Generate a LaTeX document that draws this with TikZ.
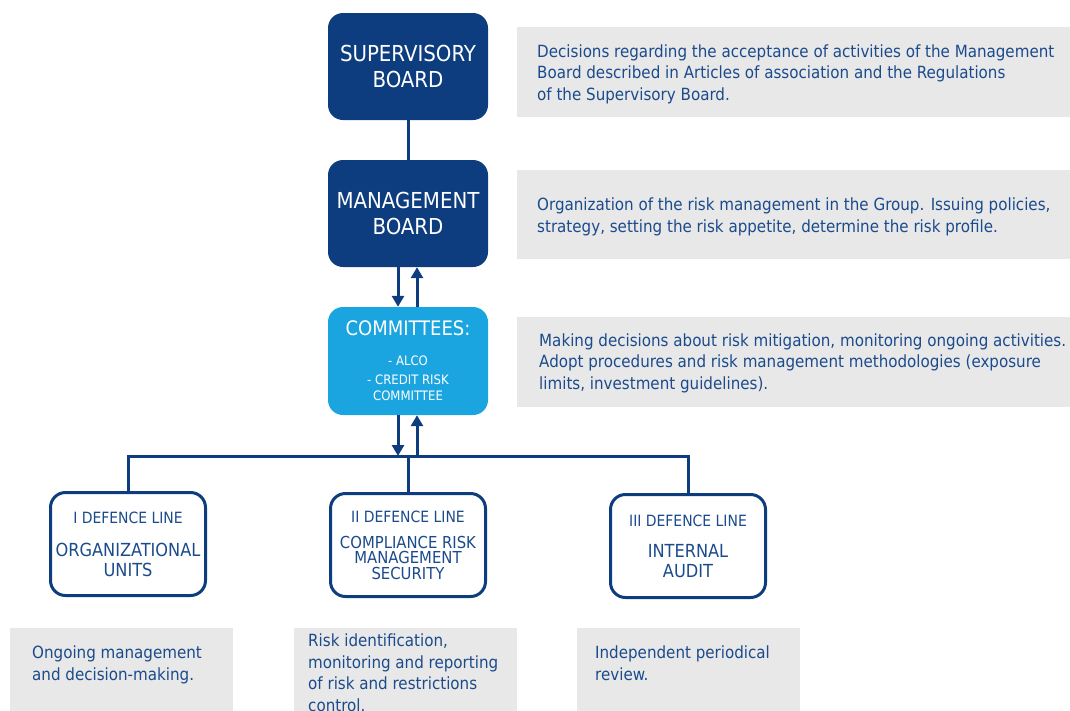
\documentclass[tikz,border=0pt]{standalone}
\usepackage{fontspec}
\setmainfont{DejaVu Sans Condensed}
\usetikzlibrary{arrows.meta}
\definecolor{navy}{HTML}{0D3D7E}
\definecolor{lblue}{HTML}{1AA5E1}
\definecolor{tnavy}{HTML}{1B4B8C}
\definecolor{lgray}{HTML}{E8E8E8}
\tikzset{
  darkbox/.style={draw=none, fill=navy, rounded corners=15pt, minimum width=160pt, minimum height=107pt, text=white, align=center, font=\fontsize{22}{26}\selectfont, inner sep=0pt},
  combox/.style={draw=none, fill=lblue, rounded corners=15pt, minimum width=160pt, minimum height=108pt, text=white, align=center, inner sep=0pt},
  linebox/.style={draw=navy, line width=3pt, fill=white, rounded corners=15pt, minimum width=155pt, minimum height=103pt, text=tnavy, align=center, inner sep=0pt},
  desc/.style={text=tnavy, align=left, font=\fontsize{16.8}{21.5}\selectfont, inner sep=0pt},
  conn/.style={draw=navy, line width=3pt},
  arr/.style={draw=navy, line width=3pt, -{Triangle[width=12pt,length=11pt]}},
}
\begin{document}
\begin{tikzpicture}[x=1pt,y=-1pt]
\useasboundingbox (0,0) rectangle (1070,710);
% gray description boxes
\fill[lgray] (517,27) rectangle (1075,117);
\fill[lgray] (517,170) rectangle (1075,259);
\fill[lgray] (517,317) rectangle (1075,407);
\fill[lgray] (10,628) rectangle (233,715);
\fill[lgray] (294,628) rectangle (517,715);
\fill[lgray] (577,628) rectangle (800,715);
% descriptions
\node[desc, anchor=west] (d1) at (537,74) {Decisions regarding the acceptance of activities of the Management\\Board described in Articles of association and the Regulations\\of the Supervisory Board.};
\node[desc, anchor=west] (d2) at (537,217) {Organization of the risk management in the Group. Issuing policies,\\strategy, setting the risk appetite, determine the risk profile.};
\node[desc, anchor=west] (d3) at (539,363) {Making decisions about risk mitigation, monitoring ongoing activities.\\Adopt procedures and risk management methodologies (exposure\\limits, investment guidelines).};
\node[desc, anchor=north west] (d4) at (32,646) {Ongoing management\\and decision-making.};
\node[desc, anchor=north west] (d5) at (308,634) {Risk identification,\\monitoring and reporting\\of risk and restrictions\\control.};
\node[desc, anchor=north west] (d6) at (595,646) {Independent periodical\\review.};
% main boxes
\node[darkbox] (sb) at (408,66.5) {SUPERVISORY\\BOARD};
\node[darkbox] (mb) at (408,213.5) {MANAGEMENT\\BOARD};
\node[combox, font=\fontsize{20}{16}\selectfont] (com) at (408,361) {COMMITTEES:\\[14pt]{\fontsize{13}{16}\selectfont - ALCO}\\[3pt]{\fontsize{13}{16}\selectfont - CREDIT RISK}\\{\fontsize{13}{16}\selectfont COMMITTEE}};
\node[linebox, font=\fontsize{18}{20}\selectfont] (u1) at (128,544) {{\fontsize{15.5}{18}\selectfont I DEFENCE LINE}\\[13pt]ORGANIZATIONAL\\UNITS};
\node[linebox, font=\fontsize{16.5}{15.5}\selectfont] (u2) at (408,545) {{\fontsize{15.5}{18}\selectfont II DEFENCE LINE}\\[10.5pt]COMPLIANCE RISK\\MANAGEMENT\\SECURITY};
\node[linebox, font=\fontsize{18}{20}\selectfont] (u3) at (688,546) {{\fontsize{15.5}{18}\selectfont III DEFENCE LINE}\\[11pt]INTERNAL\\AUDIT};
% connectors
\draw[conn] (sb.south) -- (mb.north);
\draw[arr] ([xshift=-10pt]mb.south) -- ([xshift=-10pt]com.north);
\draw[arr] ([xshift=9pt]com.north) -- ([xshift=9pt]mb.south);
\coordinate (bus) at (408,456);
\draw[conn] (u1.north) |- (bus) -| (u3.north);
\draw[conn] (bus) -- (u2.north);
\draw[arr] ([xshift=-10pt]com.south) -- ([xshift=-10pt]com.south |- bus);
\draw[arr] ([xshift=9pt]com.south |- bus) -- ([xshift=9pt]com.south);
\end{tikzpicture}
\end{document}
